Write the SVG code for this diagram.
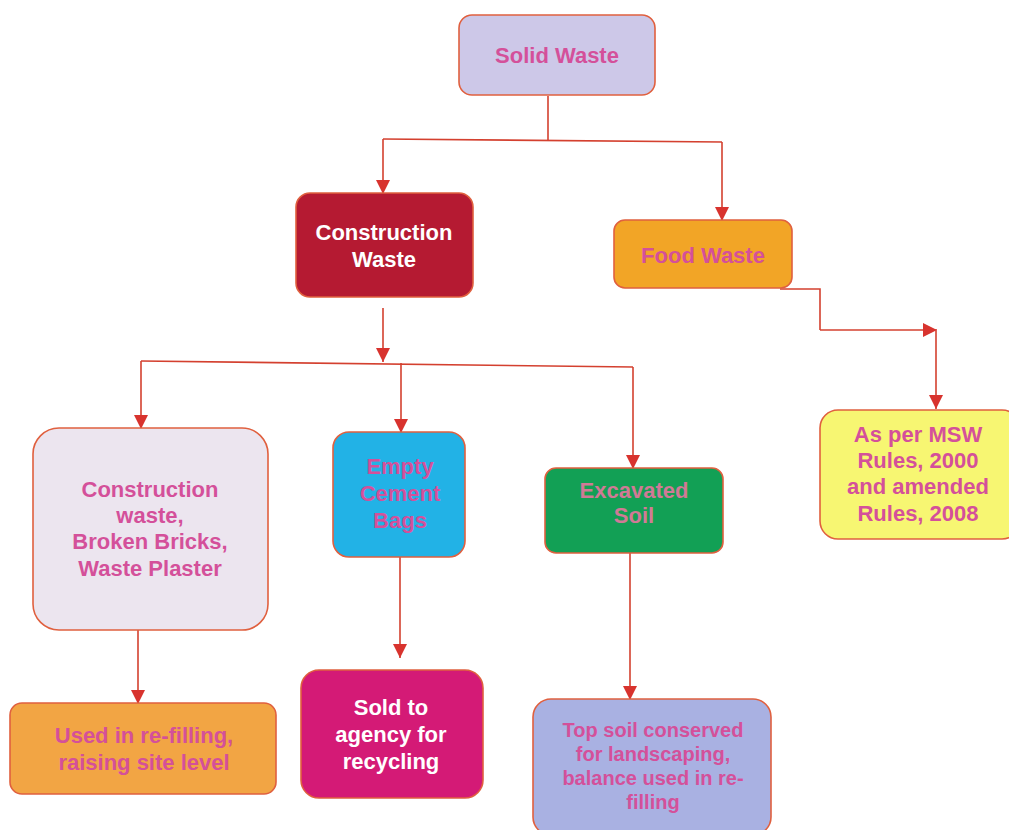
<svg xmlns="http://www.w3.org/2000/svg" width="1009" height="830" viewBox="0 0 1009 830">
<defs>
<marker id="ah" viewBox="0 0 10 10" refX="10" refY="5" markerWidth="14" markerHeight="14" markerUnits="userSpaceOnUse" orient="auto">
<path d="M0,0 L10,5 L0,10 Z" fill="#d8332e"/>
</marker>
<style>
.box{stroke:#e0603f;stroke-width:1.6}
.t{font-family:"Liberation Sans",Arial,sans-serif;font-weight:bold;font-size:22px;text-anchor:middle;fill:#d4509a}
.w{fill:#ffffff}
.c{fill:none;stroke:#d4402f;stroke-width:1.6}
.ca{fill:none;stroke:#d4402f;stroke-width:1.6;marker-end:url(#ah)}
</style>
</defs>
<rect width="1009" height="830" fill="#ffffff"/>
<g id="connectors">
<path class="c" d="M548,96 V140"/>
<path class="c" d="M383,139 L722,142"/>
<path class="ca" d="M383,139 V194"/>
<path class="ca" d="M722,142 V221"/>
<path class="c" d="M780,289 H820 V330"/>
<path class="ca" d="M820,330 H937"/>
<path class="ca" d="M936,331 V409"/>
<path class="ca" d="M383,308 V362"/>
<path class="c" d="M141,361 L633,367"/>
<path class="ca" d="M141,361 V429"/>
<path class="ca" d="M401,363 V433"/>
<path class="ca" d="M633,367 V469"/>
<path class="ca" d="M138,630 V704"/>
<path class="ca" d="M400,557 V658"/>
<path class="ca" d="M630,553 V700"/>
</g>
<g id="solid-waste">
<rect class="box" x="459" y="15" width="196" height="80" rx="13" fill="#cdc8e8"/>
<text class="t" x="557" y="63">Solid Waste</text>
</g>
<g id="construction-waste">
<rect class="box" x="296" y="193" width="177" height="104" rx="14" fill="#b51a32"/>
<text class="t w" x="384" y="240">Construction</text>
<text class="t w" x="384" y="267">Waste</text>
</g>
<g id="food-waste">
<rect class="box" x="614" y="220" width="178" height="68" rx="11" fill="#f2a526"/>
<text class="t" x="703" y="263">Food Waste</text>
</g>
<g id="msw-rules">
<rect class="box" x="820" y="410" width="200" height="129" rx="18" fill="#f7f672"/>
<text class="t" x="918" y="442">As per MSW</text>
<text class="t" x="918" y="468">Rules, 2000</text>
<text class="t" x="918" y="494">and amended</text>
<text class="t" x="918" y="521">Rules, 2008</text>
</g>
<g id="construction-debris">
<rect class="box" x="33" y="428" width="235" height="202" rx="26" fill="#ece5ef"/>
<text class="t" x="150" y="497">Construction</text>
<text class="t" x="150" y="523">waste,</text>
<text class="t" x="150" y="549">Broken Bricks,</text>
<text class="t" x="150" y="576">Waste Plaster</text>
</g>
<g id="cement-bags">
<rect class="box" x="333" y="432" width="132" height="125" rx="16" fill="#22b2e6"/>
<text class="t" x="400" y="474">Empty</text>
<text class="t" x="400" y="501">Cement</text>
<text class="t" x="400" y="528">Bags</text>
</g>
<g id="excavated-soil">
<rect class="box" x="545" y="468" width="178" height="85" rx="11" fill="#12a055"/>
<text class="t" x="634" y="498" style="fill:#d07a96">Excavated</text>
<text class="t" x="634" y="523" style="fill:#d07a96">Soil</text>
</g>
<g id="refilling">
<rect class="box" x="10" y="703" width="266" height="91" rx="12" fill="#f2a544"/>
<text class="t" x="144" y="743">Used in re-filling,</text>
<text class="t" x="144" y="770">raising site level</text>
</g>
<g id="sold-agency">
<rect class="box" x="301" y="670" width="182" height="128" rx="18" fill="#d41a76"/>
<text class="t w" x="391" y="715">Sold to</text>
<text class="t w" x="391" y="742">agency for</text>
<text class="t w" x="391" y="769">recycling</text>
</g>
<g id="top-soil">
<rect class="box" x="533" y="699" width="238" height="136" rx="18" fill="#a9b1e2"/>
<text class="t" x="653" y="737" style="font-size:20px">Top soil conserved</text>
<text class="t" x="653" y="761" style="font-size:20px">for landscaping,</text>
<text class="t" x="653" y="785" style="font-size:20px">balance used in re-</text>
<text class="t" x="653" y="809" style="font-size:20px">filling</text>
</g>
</svg>
